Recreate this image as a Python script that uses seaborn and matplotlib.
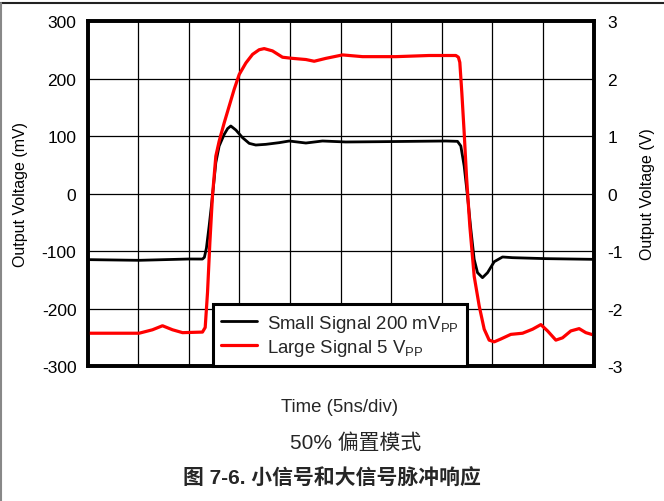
import matplotlib
matplotlib.use("Agg")
import matplotlib.pyplot as plt
from matplotlib.lines import Line2D
import seaborn as sns
import pandas as pd

# ---- data ----
small_t = [0.0, 5.1, 10.05, 11.36, 11.55, 11.75, 12.02, 12.35, 12.68, 13.01, 13.51, 13.85, 14.16, 14.66,
           15.32, 15.98, 16.63, 17.62, 18.94, 19.93, 21.58, 23.22, 25.53, 28.82, 32.12,
           35.41, 36.56, 36.89, 37.22, 37.55, 37.88, 38.21, 38.54, 39.03, 39.53, 40.19,
           41.01, 42.0, 45.29, 50.0]
small_mv = [-115.0, -116.2, -113.9, -114.0, -111.0, -95.0, -56.5, -4.3, 53.6, 82.6, 102.9, 113.0, 117.4, 110.4,
            97.1, 87.2, 84.3, 85.5, 88.4, 91.3, 87.8, 91.3, 89.6, 90.1, 90.7,
            91.3, 90.7, 82.6, 47.8, -4.3, -62.3, -114.5, -137.7, -146.4, -137.7, -118.6,
            -110.4, -111.6, -113.3, -114.5]

large_t = [0.0, 5.1, 6.42, 7.41, 8.4, 9.39, 11.36, 11.63, 11.86, 12.09, 12.35, 12.68, 13.01,
           13.51, 14.0, 14.49, 14.99, 15.65, 16.31, 16.96, 17.46, 18.28, 19.27, 20.26,
           21.58, 22.4, 23.55, 25.2, 27.18, 30.47, 33.76, 36.4, 36.65, 36.79, 36.99, 37.22, 37.45,
           37.78, 38.21, 38.71, 39.2, 39.69, 40.19, 40.85, 41.83, 42.99, 43.98, 44.8,
           45.46, 46.28, 46.94, 47.76, 48.58, 49.24, 50.0]
large_v = [-2.43, -2.43, -2.37, -2.30, -2.37, -2.42, -2.41, -2.33, -1.72, -0.86, -0.04, 0.65, 0.91,
           1.23, 1.52, 1.81, 2.07, 2.27, 2.42, 2.50, 2.52, 2.48, 2.37, 2.35,
           2.33, 2.30, 2.35, 2.41, 2.38, 2.38, 2.40, 2.40, 2.37, 2.28, 1.75, 1.06, 0.30,
           -0.57, -1.44, -1.96, -2.36, -2.55, -2.58, -2.53, -2.45, -2.43, -2.36, -2.28,
           -2.39, -2.55, -2.51, -2.39, -2.35, -2.42, -2.46]

left_ticks = [-300, -200, -100, 0, 100, 200, 300]
right_ticks = [-3, -2, -1, 0, 1, 2, 3]
x_ticks = [0, 5, 10, 15, 20, 25, 30, 35, 40, 45, 50]

label_small = r"Small Signal 200 mV$_{\mathrm{PP}}$"
label_large = r"Large Signal 5 V$_{\mathrm{PP}}$"

# ---- style ----
sns.set_theme(style="white")
plt.rcParams["font.family"] = ["Liberation Sans", "Noto Sans CJK SC", "DejaVu Sans"]
plt.rcParams["mathtext.fontset"] = "custom"
plt.rcParams["mathtext.rm"] = "Liberation Sans"
plt.rcParams["mathtext.it"] = "Liberation Sans:italic"
plt.rcParams["mathtext.bf"] = "Liberation Sans:bold"

fig = plt.figure(figsize=(6.64, 5.02), dpi=100)
ax = fig.add_axes([87.5 / 664, (502 - 367) / 502, 506 / 664, 345 / 502])
ax2 = ax.twinx()

df_s = pd.DataFrame({"t": small_t, "v": small_mv})
df_l = pd.DataFrame({"t": large_t, "v": large_v})

sns.lineplot(data=df_s, x="t", y="v", ax=ax, color="black", lw=2.0, sort=False)
sns.lineplot(data=df_l, x="t", y="v", ax=ax2, color="#ff0000", lw=2.3, sort=False)

ax.set_xlim(0, 50)
ax.set_ylim(-300, 300)
ax2.set_ylim(-3, 3)
ax.set_xticks(x_ticks)
ax.set_xticklabels([])
ax.set_yticks(left_ticks)
ax.set_yticklabels([str(v) for v in left_ticks], fontsize=12.5)
ax2.set_yticks(right_ticks)
ax2.set_yticklabels([str(v) for v in right_ticks], fontsize=12.5)
ax.grid(True, color="black", lw=0.9)
ax.set_axisbelow(True)
ax.tick_params(axis="both", length=0, pad=8, colors="black")
ax2.tick_params(axis="y", length=0, pad=10, colors="black")

ax.set_xlabel("")
ax.set_ylabel("Output Voltage (mV)", fontsize=11.5, color="black", labelpad=10)
ax2.set_ylabel("Output Voltage (V)", fontsize=11.5, color="black", labelpad=12)
ax2.set_xlabel("")

for a in (ax, ax2):
    for s in a.spines.values():
        s.set_visible(True)
        s.set_color("black")
        s.set_linewidth(2.6)

handles = [Line2D([0], [0], color="black", lw=2.0),
           Line2D([0], [0], color="#ff0000", lw=2.3)]
leg = ax2.legend(handles, [label_small, label_large], loc="lower left",
                 bbox_to_anchor=((213 - 87.5) / 506, 0.0), fontsize=13.4,
                 frameon=True, fancybox=False, borderpad=0.45, handlelength=1.9,
                 handletextpad=0.55, labelspacing=0.15, borderaxespad=0)
leg.get_frame().set_edgecolor("black")
leg.get_frame().set_linewidth(2.2)
leg.get_frame().set_facecolor("white")
leg.get_frame().set_alpha(1)

fig.text(340 / 664, 1 - 408 / 502, "Time (5ns/div)", ha="center", va="center", fontsize=13.4)
fig.text(356 / 664, 1 - 443 / 502, "50% 偏置模式", ha="center", va="center", fontsize=15,
         family=["Liberation Sans", "Noto Sans CJK SC"])
fig.text(332 / 664, 1 - 479 / 502, "图 7-6. 小信号和大信号脉冲响应", ha="center", va="center",
         fontsize=15, fontweight="bold", family=["Liberation Sans", "Noto Sans CJK SC"])

# page frame lines
fig.add_artist(Line2D([0, 1], [1 - 3.5 / 502, 1 - 3.5 / 502], transform=fig.transFigure,
                      color="#222222", lw=1.5))
fig.add_artist(Line2D([0.5 / 664, 0.5 / 664], [0, 1 - 3.5 / 502], transform=fig.transFigure,
                      color="#888888", lw=1.5))

fig.savefig("out.png", dpi=100)
